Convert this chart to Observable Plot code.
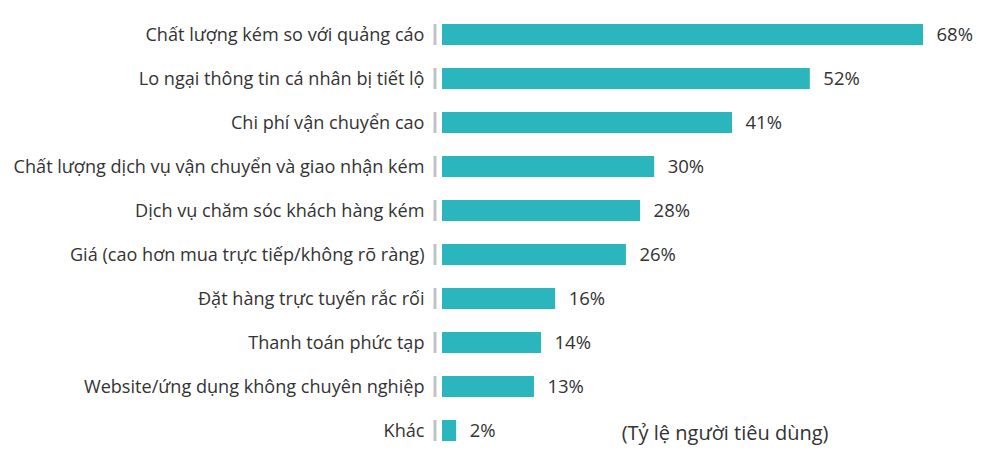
<!DOCTYPE html>
<html>
<head>
<meta charset="utf-8">
<script src="https://cdn.jsdelivr.net/npm/d3@7"></script>
<script src="https://cdn.jsdelivr.net/npm/@observablehq/plot@0.6"></script>
<style>
  html, body { margin: 0; padding: 0; background: #fff; }
  #chart { width: 1000px; height: 462px; }
</style>
</head>
<body>
<div id="chart"></div>
<script>
const categories = [
  "Chất lượng kém so với quảng cáo",
  "Lo ngại thông tin cá nhân bị tiết lộ",
  "Chi phí vận chuyển cao",
  "Chất lượng dịch vụ vận chuyển và giao nhận kém",
  "Dịch vụ chăm sóc khách hàng kém",
  "Giá (cao hơn mua trực tiếp/không rõ ràng)",
  "Đặt hàng trực tuyến rắc rối",
  "Thanh toán phức tạp",
  "Website/ứng dụng không chuyên nghiệp",
  "Khác"
];
const values = [68, 52, 41, 30, 28, 26, 16, 14, 13, 2];
const note = "(Tỷ lệ người tiêu dùng)";

const data = categories.map((c, i) => ({category: c, value: values[i]}));
const FONT = "'Open Sans', sans-serif";

const chart = Plot.plot({
  width: 1000,
  height: 462,
  marginLeft: 442,
  marginRight: 77,
  marginTop: 13,
  marginBottom: 11,
  style: {fontFamily: FONT, background: "#fff"},
  x: {domain: [0, 68], axis: null},
  y: {domain: categories, paddingInner: 0.53, paddingOuter: 0.2, label: null},
  marks: [
    Plot.axisY({tickSize: 0, tickPadding: 18, fontSize: 18.1, fill: "#333", label: null}),
    Plot.tickX(data, {x: () => 0, y: "category", dx: -7.5, stroke: "#c2c2c2", strokeWidth: 3}),
    Plot.barX(data, {x: "value", y: "category", fill: "#2bb5bd"}),
    Plot.text(data, {x: "value", y: "category", text: d => d.value + "%", dx: 13, textAnchor: "start", fontSize: 18.5, fill: "#333"}),
    Plot.text([{category: categories[categories.length - 1], t: note}], {
      y: "category", text: "t", frameAnchor: "right", textAnchor: "end",
      dx: -95, dy: 3, fontSize: 20, fill: "#333"
    })
  ]
});
document.getElementById("chart").appendChild(chart);
</script>
</body>
</html>
